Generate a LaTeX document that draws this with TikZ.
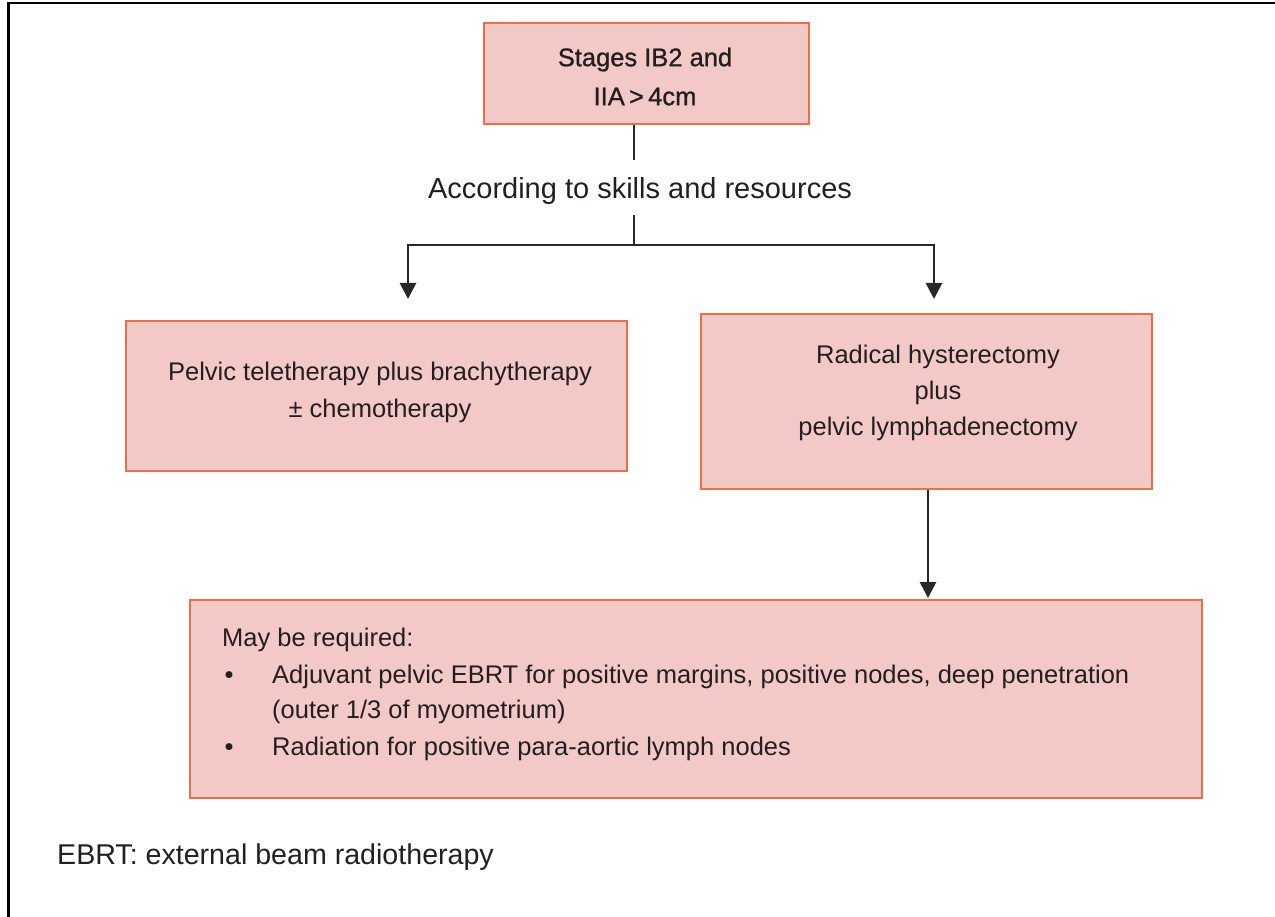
\documentclass[tikz,border=0pt]{standalone}
\usepackage{fontspec}
\setmainfont{Liberation Sans}
\newfontfamily\semibold{Liberation Sans}[FakeBold=1]
\usetikzlibrary{arrows.meta}
\definecolor{boxfill}{RGB}{243,201,200}
\definecolor{boxline}{RGB}{238,110,70}
\definecolor{ink}{RGB}{35,31,32}
\definecolor{conn}{RGB}{40,40,40}
\tikzset{
  box/.style={draw=boxline, fill=boxfill, line width=2pt, inner sep=0pt},
  txt/.style={text=ink, inner sep=0pt, font=\fontsize{25.5}{37}\selectfont, text height=18.4pt, text depth=0pt},
  toptxt/.style={txt, font=\semibold\fontsize{25.5}{37}\selectfont},
  conline/.style={draw=conn, line width=2.8pt},
  conarrow/.style={conline, -{Triangle[length=16pt,width=16pt]}},
}
\begin{document}
\begin{tikzpicture}[x=1pt,y=-1pt]
\useasboundingbox (0,0) rectangle (1275,917);
% outer frame
\draw[black, line width=2.5pt] (8.5,917) -- (8.5,3) -- (1275,3);
% boxes
\node[box, minimum width=325pt, minimum height=101pt] (top) at (646.5,73.5) {};
\node[box, minimum width=501pt, minimum height=150pt] (left) at (376.5,396) {};
\node[box, minimum width=451pt, minimum height=175pt] (right) at (926.5,401.5) {};
\node[box, minimum width=1012pt, minimum height=198pt] (bottom) at (696,699) {};
% texts
\node[toptxt] (top1) at (645,57) {Stages IB2 and};
\node[toptxt] (top2) at (645,96) {IIA\,>\,4cm};
\node[txt, font=\fontsize{29}{35}\selectfont, text height=20.9pt] (according) at (640,188) {According to skills and resources};
\node[txt] (left1) at (380,371) {Pelvic teletherapy plus brachytherapy};
\node[txt] (left2) at (380,408) {\textpm\ chemotherapy};
\node[txt] (right1) at (938,354) {Radical hysterectomy};
\node[txt] (right2) at (938,390) {plus};
\node[txt] (right3) at (938,426) {pelvic lymphadenectomy};
\node[txt, anchor=west] (may) at (222,637) {May be required:};
\node[txt] (b1) at (229,674) {\textbullet};
\node[txt, anchor=west] (l1) at (272,674) {Adjuvant pelvic EBRT for positive margins, positive nodes, deep penetration};
\node[txt, anchor=west] (l2) at (272,709) {(outer 1/3 of myometrium)};
\node[txt] (b2) at (229,746) {\textbullet};
\node[txt, anchor=west] (l3) at (272,746) {Radiation for positive para-aortic lymph nodes};
\node[txt, anchor=west, font=\fontsize{28.6}{34}\selectfont, text height=20.6pt] (footer) at (57,854) {EBRT: external beam radiotherapy};
% connectors
\coordinate (stemA) at (634,160);
\coordinate (stemB) at (634,215);
\coordinate (split) at (634,245);
\coordinate (la) at (408,299);
\coordinate (ra) at (934,299);
\coordinate (ba) at (928,598);
\draw[conline] (top.south -| split) -- (stemA);
\draw[conline] (stemB) -- (split);
\draw[conarrow] (split) -| (la);
\draw[conarrow] (split) -| (ra);
\draw[conarrow] (right.south -| ba) -- (ba);
\end{tikzpicture}
\end{document}
